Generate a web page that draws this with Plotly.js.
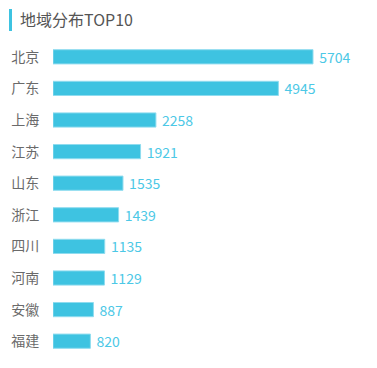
<!DOCTYPE html>
<html><head><meta charset="utf-8">
<script src="https://cdn.plot.ly/plotly-3.0.1.min.js"></script>
<style>html,body{margin:0;padding:0;background:#fff}#c{width:377px;height:368px}</style>
</head><body><div id="c"></div>
<script>
const regions = ['北京','广东','上海','江苏','山东','浙江','四川','河南','安徽','福建'];
const counts = [5704,4945,2258,1921,1535,1439,1135,1129,887,820];
const titleText = '地域分布TOP10';

const font = '"Noto Sans CJK SC", "Noto Sans", sans-serif';
const W = 377, H = 368, L = 53, R = 20, T = 41, B = 11;
const pw = W - L - R, ph = H - T - B;
const px = v => (v - L) / pw;
const py = v => (H - B - v) / ph;
Plotly.newPlot('c', [{
  type: 'bar', orientation: 'h',
  x: counts, y: regions,
  marker: {color: '#3ec3e1', line: {color: '#8fdcef', width: 1}},
  texttemplate: '\u00a0%{x}', textposition: 'outside', cliponaxis: false,
  constraintext: 'none',
  textfont: {color: '#4cc8e6', size: 14, family: font},
  hoverinfo: 'none'
}], {
  width: W, height: H,
  margin: {l: L, r: R, t: T, b: B},
  paper_bgcolor: '#fff', plot_bgcolor: '#fff',
  bargap: 0.55,
  showlegend: false,
  title: {text: titleText, xref: 'container', x: 20/W, xanchor: 'left', yref: 'container', y: 1 - 20/H, yanchor: 'middle',
          font: {family: font, size: 16, color: '#555'}},
  xaxis: {range: [0, 5704*pw/260], visible: false, fixedrange: true},
  yaxis: {autorange: 'reversed', showgrid: false, zeroline: false, showline: false,
          ticks: 'outside', ticklen: 10, tickcolor: 'rgba(0,0,0,0)',
          tickfont: {family: font, size: 14, color: '#6a6a6a'}, fixedrange: true},
  shapes: [{type: 'rect', xref: 'paper', yref: 'paper', x0: px(9), x1: px(12), y0: py(31), y1: py(9),
            fillcolor: '#3ec3e1', line: {width: 0}}]
}, {displayModeBar: false, staticPlot: true});
</script></body></html>
